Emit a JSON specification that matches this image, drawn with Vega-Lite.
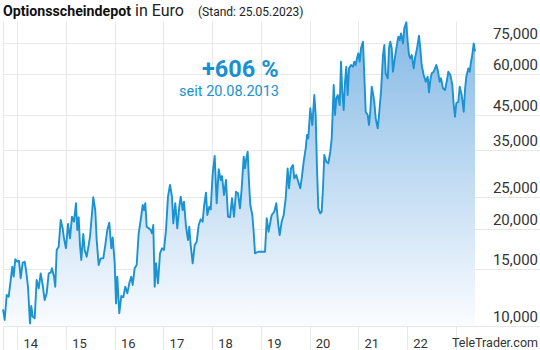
{
  "$schema": "https://vega.github.io/schema/vega-lite/v6.json",
  "width": 537,
  "height": 305,
  "autosize": {"type": "none"},
  "padding": {"left": 3, "top": 21, "right": 0, "bottom": 24},
  "background": "#ffffff",
  "config": {"view": {"stroke": null}, "font": "Roboto"},
  "datasets": {
    "depot": [
      {"t":2013.707,"v":11260},{"t":2013.741,"v":10440},{"t":2013.783,"v":12470},{"t":2013.824,"v":12320},{"t":2013.865,"v":13880},{"t":2013.898,"v":15250},{"t":2013.926,"v":14210},{"t":2013.959,"v":16080},{"t":2014.0,"v":15810},{"t":2014.035,"v":15920},{"t":2014.07,"v":14050},{"t":2014.111,"v":15690},{"t":2014.152,"v":15810},{"t":2014.179,"v":14900},{"t":2014.22,"v":13230},{"t":2014.261,"v":10190},{"t":2014.288,"v":11530},{"t":2014.316,"v":10690},{"t":2014.357,"v":10560},{"t":2014.398,"v":13880},{"t":2014.44,"v":13080},{"t":2014.481,"v":14550},{"t":2014.522,"v":13390},{"t":2014.563,"v":12030},{"t":2014.604,"v":12620},{"t":2014.645,"v":14550},{"t":2014.686,"v":14620},{"t":2014.713,"v":15080},{"t":2014.754,"v":14210},{"t":2014.78,"v":13230},{"t":2014.809,"v":17180},{"t":2014.85,"v":17590},{"t":2014.891,"v":21270},{"t":2014.932,"v":20050},{"t":2014.959,"v":18670},{"t":2015.0,"v":17390},{"t":2015.041,"v":20670},{"t":2015.082,"v":18670},{"t":2015.123,"v":21780},{"t":2015.164,"v":21010},{"t":2015.205,"v":23960},{"t":2015.232,"v":19810},{"t":2015.261,"v":21680},{"t":2015.287,"v":17800},{"t":2015.314,"v":16000},{"t":2015.355,"v":19250},{"t":2015.384,"v":17180},{"t":2015.425,"v":16380},{"t":2015.466,"v":17800},{"t":2015.493,"v":18890},{"t":2015.534,"v":22310},{"t":2015.56,"v":25000},{"t":2015.601,"v":22840},{"t":2015.63,"v":18450},{"t":2015.671,"v":15440},{"t":2015.712,"v":16190},{"t":2015.766,"v":16190},{"t":2015.807,"v":17800},{"t":2015.848,"v":19810},{"t":2015.889,"v":20860},{"t":2015.93,"v":17390},{"t":2015.959,"v":18800},{"t":2016.0,"v":15630},{"t":2016.027,"v":11750},{"t":2016.053,"v":14210},{"t":2016.094,"v":10950},{"t":2016.135,"v":12380},{"t":2016.176,"v":12270},{"t":2016.218,"v":13230},{"t":2016.259,"v":12620},{"t":2016.299,"v":13550},{"t":2016.34,"v":14210},{"t":2016.369,"v":13390},{"t":2016.41,"v":15080},{"t":2016.451,"v":15440},{"t":2016.492,"v":19340},{"t":2016.534,"v":21270},{"t":2016.575,"v":23670},{"t":2016.601,"v":22840},{"t":2016.628,"v":23960},{"t":2016.657,"v":20280},{"t":2016.698,"v":20050},{"t":2016.739,"v":19810},{"t":2016.766,"v":19340},{"t":2016.792,"v":20520},{"t":2016.821,"v":13230},{"t":2016.848,"v":15630},{"t":2016.889,"v":13550},{"t":2016.93,"v":16780},{"t":2016.971,"v":17390},{"t":2017.012,"v":17180},{"t":2017.053,"v":19810},{"t":2017.094,"v":25110},{"t":2017.135,"v":27290},{"t":2017.176,"v":25110},{"t":2017.203,"v":20770},{"t":2017.244,"v":23960},{"t":2017.285,"v":20050},{"t":2017.326,"v":23380},{"t":2017.355,"v":25110},{"t":2017.396,"v":22840},{"t":2017.423,"v":24230},{"t":2017.464,"v":20280},{"t":2017.505,"v":18450},{"t":2017.531,"v":20280},{"t":2017.56,"v":17800},{"t":2017.601,"v":15630},{"t":2017.642,"v":17800},{"t":2017.683,"v":18220},{"t":2017.724,"v":20520},{"t":2017.765,"v":21380},{"t":2017.806,"v":21010},{"t":2017.833,"v":23380},{"t":2017.874,"v":25840},{"t":2017.901,"v":22040},{"t":2017.942,"v":23380},{"t":2017.971,"v":22950},{"t":2018.012,"v":29660},{"t":2018.053,"v":33550},{"t":2018.094,"v":23960},{"t":2018.135,"v":30520},{"t":2018.176,"v":28280},{"t":2018.203,"v":29090},{"t":2018.244,"v":25420},{"t":2018.285,"v":28280},{"t":2018.326,"v":21780},{"t":2018.367,"v":21680},{"t":2018.408,"v":24830},{"t":2018.449,"v":21780},{"t":2018.49,"v":26020},{"t":2018.531,"v":25730},{"t":2018.572,"v":23120},{"t":2018.607,"v":26660},{"t":2018.648,"v":33380},{"t":2018.675,"v":30730},{"t":2018.701,"v":33000},{"t":2018.73,"v":34590},{"t":2018.757,"v":27940},{"t":2018.784,"v":23670},{"t":2018.825,"v":22040},{"t":2018.853,"v":19570},{"t":2018.88,"v":16780},{"t":2018.942,"v":16970},{"t":2019.086,"v":16970},{"t":2019.121,"v":21530},{"t":2019.158,"v":19570},{"t":2019.223,"v":22040},{"t":2019.276,"v":22560},{"t":2019.317,"v":23960},{"t":2019.359,"v":20520},{"t":2019.387,"v":19110},{"t":2019.428,"v":21010},{"t":2019.469,"v":22040},{"t":2019.51,"v":24830},{"t":2019.551,"v":30730},{"t":2019.578,"v":26660},{"t":2019.619,"v":30730},{"t":2019.66,"v":31460},{"t":2019.687,"v":28620},{"t":2019.728,"v":29300},{"t":2019.769,"v":27940},{"t":2019.81,"v":26660},{"t":2019.839,"v":28620},{"t":2019.88,"v":32210},{"t":2019.921,"v":35440},{"t":2019.948,"v":38960},{"t":2019.974,"v":38060},{"t":2020.015,"v":47120},{"t":2020.057,"v":41830},{"t":2020.098,"v":51790},{"t":2020.126,"v":44920},{"t":2020.153,"v":30730},{"t":2020.18,"v":23120},{"t":2020.221,"v":22310},{"t":2020.249,"v":22560},{"t":2020.276,"v":26660},{"t":2020.303,"v":33790},{"t":2020.344,"v":32210},{"t":2020.385,"v":31840},{"t":2020.426,"v":34590},{"t":2020.455,"v":38060},{"t":2020.496,"v":55620},{"t":2020.523,"v":44920},{"t":2020.549,"v":50590},{"t":2020.578,"v":51790},{"t":2020.619,"v":48230},{"t":2020.646,"v":65660},{"t":2020.672,"v":53020},{"t":2020.701,"v":46550},{"t":2020.728,"v":56940},{"t":2020.754,"v":63360},{"t":2020.783,"v":51790},{"t":2020.81,"v":62630},{"t":2020.851,"v":64140},{"t":2020.892,"v":63360},{"t":2020.919,"v":65660},{"t":2020.947,"v":64140},{"t":2020.974,"v":67270},{"t":2021.001,"v":69710},{"t":2021.03,"v":65660},{"t":2021.056,"v":72240},{"t":2021.097,"v":75700},{"t":2021.124,"v":59710},{"t":2021.153,"v":45990},{"t":2021.194,"v":44920},{"t":2021.221,"v":41830},{"t":2021.247,"v":45990},{"t":2021.276,"v":54950},{"t":2021.303,"v":52420},{"t":2021.329,"v":49380},{"t":2021.358,"v":43870},{"t":2021.399,"v":40860},{"t":2021.426,"v":44920},{"t":2021.467,"v":53020},{"t":2021.508,"v":68870},{"t":2021.535,"v":73950},{"t":2021.563,"v":60440},{"t":2021.605,"v":58330},{"t":2021.631,"v":72240},{"t":2021.658,"v":75700},{"t":2021.687,"v":72240},{"t":2021.713,"v":61130},{"t":2021.74,"v":65660},{"t":2021.781,"v":72240},{"t":2021.822,"v":78460},{"t":2021.851,"v":76630},{"t":2021.878,"v":80360},{"t":2021.919,"v":74840},{"t":2021.945,"v":83280},{"t":2021.986,"v":86910},{"t":2022.015,"v":75700},{"t":2022.042,"v":68870},{"t":2022.068,"v":67270},{"t":2022.097,"v":68870},{"t":2022.138,"v":62630},{"t":2022.165,"v":67270},{"t":2022.206,"v":72240},{"t":2022.247,"v":79000},{"t":2022.274,"v":72240},{"t":2022.302,"v":64140},{"t":2022.343,"v":59710},{"t":2022.385,"v":56940},{"t":2022.426,"v":59010},{"t":2022.452,"v":52790},{"t":2022.479,"v":57630},{"t":2022.508,"v":60440},{"t":2022.549,"v":61130},{"t":2022.576,"v":62630},{"t":2022.602,"v":64140},{"t":2022.631,"v":61880},{"t":2022.672,"v":56940},{"t":2022.699,"v":58330},{"t":2022.74,"v":54320},{"t":2022.781,"v":53670},{"t":2022.822,"v":57630},{"t":2022.849,"v":61130},{"t":2022.89,"v":59710},{"t":2022.931,"v":55620},{"t":2022.96,"v":48230},{"t":2022.986,"v":44380},{"t":2023.013,"v":48820},{"t":2023.054,"v":49380},{"t":2023.083,"v":54950},{"t":2023.124,"v":51790},{"t":2023.165,"v":45990},{"t":2023.191,"v":53670},{"t":2023.218,"v":59010},{"t":2023.259,"v":62630},{"t":2023.288,"v":61130},{"t":2023.315,"v":65660},{"t":2023.341,"v":68870},{"t":2023.37,"v":74840},{"t":2023.397,"v":70600}
    ]
  },
  "layer": [
    {
      "data": {"name": "depot"},
      "mark": {
        "type": "area",
        "line": false,
        "color": {
          "gradient": "linear",
          "x1": 1, "y1": 1, "x2": 1, "y2": 0,
          "stops": [
            {"offset": 0, "color": "#fafcff"},
            {"offset": 1, "color": "#84b9e5"}
          ]
        }
      },
      "encoding": {
        "x": {
          "field": "t", "type": "quantitative",
          "scale": {"domain": [2013.707, 2024.731], "nice": false, "zero": false},
          "axis": {
            "values": [2013.707, 2014, 2015, 2016, 2017, 2018, 2019, 2020, 2021, 2022, 2023],
            "labelExpr": "datum.value >= 2014 && datum.value < 2023 ? substring(toString(datum.value), 2, 4) : ''",
            "title": null,
            "grid": true, "gridColor": "#e8e8e8", "gridWidth": 1,
            "ticks": true, "tickColor": "#e8e8e8", "tickSize": 24, "tickWidth": 1,
            "domain": false,
            "labelPadding": -7, "labelBaseline": "middle", "labelAlign": "center",
            "labelOffset": 13,
            "labelFont": "Roboto", "labelFontSize": 13, "labelColor": "#333333",
            "labelFlush": false, "labelOverlap": false, "labelBound": false
          }
        },
        "y": {
          "field": "v", "type": "quantitative",
          "scale": {"type": "log", "domain": [10000, 87740], "nice": false},
          "axis": {
            "orient": "right",
            "values": [10000, 15000, 20000, 25000, 35000, 45000, 60000, 75000],
            "format": ",d",
            "title": null,
            "grid": true, "gridColor": "#e8e8e8", "gridWidth": 1,
            "ticks": false, "domain": false,
            "labelAlign": "right", "labelPadding": -2.5,
            "labelBaseline": "alphabetic", "labelOffset": -4.5,
            "labelFont": "Roboto", "labelFontSize": 15, "labelColor": "#333333",
            "labelOverlap": false, "labelBound": false, "labelFlush": false
          }
        },
        "y2": {"datum": 10000}
      }
    },
    {
      "data": {"name": "depot"},
      "mark": {"type": "line", "color": "#1b92d1", "strokeWidth": 1.9, "strokeJoin": "round"},
      "encoding": {
        "x": {"field": "t", "type": "quantitative"},
        "y": {"field": "v", "type": "quantitative"}
      }
    },
    {
      "data": {"values": [{"label": "Optionsscheindepot"}]},
      "mark": {"type": "text", "align": "left", "baseline": "alphabetic", "font": "Roboto", "fontSize": 14.2, "fontWeight": "bold", "color": "#111111"},
      "encoding": {
        "text": {"field": "label", "type": "nominal"},
        "x": {"datum": 2013.707, "type": "quantitative"},
        "y": {"datum": 90900, "type": "quantitative"}
      }
    },
    {
      "data": {"values": [{"label": "in Euro"}]},
      "mark": {"type": "text", "align": "left", "baseline": "alphabetic", "font": "Roboto", "fontSize": 16, "color": "#222222"},
      "encoding": {
        "text": {"field": "label", "type": "nominal"},
        "x": {"datum": 2016.417, "type": "quantitative"},
        "y": {"datum": 90900, "type": "quantitative"}
      }
    },
    {
      "data": {"values": [{"label": "(Stand: 25.05.2023)"}]},
      "mark": {"type": "text", "align": "left", "baseline": "alphabetic", "font": "Roboto", "fontSize": 12, "color": "#222222"},
      "encoding": {
        "text": {"field": "label", "type": "nominal"},
        "x": {"datum": 2017.71, "type": "quantitative"},
        "y": {"datum": 90900, "type": "quantitative"}
      }
    },
    {
      "data": {"values": [{"label": "+606 %"}]},
      "mark": {"type": "text", "align": "right", "baseline": "alphabetic", "font": "Roboto", "fontSize": 23.5, "fontWeight": "bold", "color": "#1a90d2"},
      "encoding": {
        "text": {"field": "label", "type": "nominal"},
        "x": {"datum": 2019.363, "type": "quantitative"},
        "y": {"datum": 59000, "type": "quantitative"}
      }
    },
    {
      "data": {"values": [{"label": "seit 20.08.2013"}]},
      "mark": {"type": "text", "align": "right", "baseline": "alphabetic", "font": "Roboto", "fontSize": 14.5, "color": "#1a90d2"},
      "encoding": {
        "text": {"field": "label", "type": "nominal"},
        "x": {"datum": 2019.373, "type": "quantitative"},
        "y": {"datum": 51530, "type": "quantitative"}
      }
    },
    {
      "data": {"values": [{"label": "TeleTrader.com"}]},
      "mark": {"type": "text", "align": "right", "baseline": "alphabetic", "font": "Roboto", "fontSize": 12.5, "color": "#333333"},
      "encoding": {
        "text": {"field": "label", "type": "nominal"},
        "x": {"datum": 2024.69, "type": "quantitative"},
        "y": {"datum": 8610, "type": "quantitative"}
      }
    }
  ]
}
